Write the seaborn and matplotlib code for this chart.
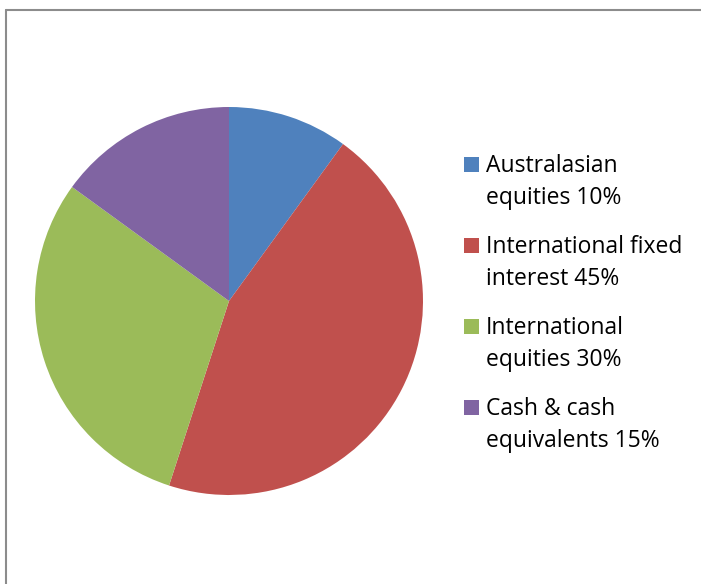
import matplotlib
matplotlib.use("Agg")
import matplotlib.pyplot as plt
import seaborn as sns
from matplotlib.lines import Line2D
from matplotlib.patches import Rectangle

# ========================
# DATA
# ========================
labels = ["Australasian\nequities 10%", "International fixed\ninterest 45%",
          "International\nequities 30%", "Cash & cash\nequivalents 15%"]
shares = [10, 45, 30, 15]
colors = ["#4F81BD", "#C0504D", "#9BBB59", "#8064A2"]

sns.set_style("white")
plt.rcParams['font.family'] = ['Open Sans', 'DejaVu Sans']

W, H = 701, 584
fig = plt.figure(figsize=(W / 100, H / 100), dpi=100)

def fx(px):
    return px / W

def fy(py):
    return 1 - py / H

# pie area (pixel box -> figure fraction)
cx, cy, r = 229, 301, 194
ax = fig.add_axes([fx(cx - r), fy(cy + r), 2 * r / W, 2 * r / H])
wedges, _ = ax.pie(shares, colors=colors, startangle=90, counterclock=False,
                   wedgeprops=dict(linewidth=0))
ax.set_xlim(-1, 1)
ax.set_ylim(-1, 1)
ax.set_aspect('equal')
ax.axis('off')

# legend drawn by hand: square + two text lines per entry
first_base = 172   # baseline of first legend line (px from top)
entry_step = 81
line_step = 32
for i, (lab, col) in enumerate(zip(labels, colors)):
    base = first_base + i * entry_step
    fig.add_artist(Rectangle((fx(464), fy(base)), 15 / W, 15 / H,
                             transform=fig.transFigure, color=col, lw=0))
    for j, line in enumerate(lab.split('\n')):
        fig.text(fx(486), fy(base + j * line_step), line,
                 fontsize=16.5, va='baseline', ha='left', color='#000000')

# chart frame (only left and top edges visible)
fig.add_artist(Line2D([fx(5.5), fx(5.5)], [0, fy(9.5)],
                      transform=fig.transFigure, color='#8c8c8c', lw=1.5))
fig.add_artist(Line2D([fx(5.5), 1], [fy(9.5), fy(9.5)],
                      transform=fig.transFigure, color='#8c8c8c', lw=1.5))

fig.savefig('out.png', dpi=100)
